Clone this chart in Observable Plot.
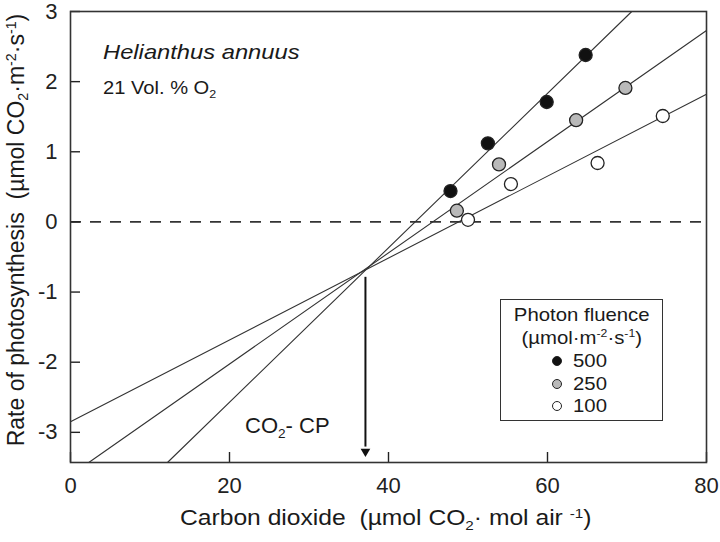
<!DOCTYPE html>
<html><head><meta charset="utf-8">
<script src="https://cdn.jsdelivr.net/npm/d3@7"></script>
<script src="https://cdn.jsdelivr.net/npm/@observablehq/plot@0.6"></script>
<style>
body{margin:0;background:#fff;}
#wrap{position:relative;width:720px;height:542px;font-family:"Liberation Sans",Arial,Helvetica,sans-serif;color:#1a1a1a;overflow:hidden;}
#wrap svg{position:absolute;left:0;top:0;}
.t{position:absolute;white-space:nowrap;line-height:1;transform-origin:0 0;}
.t sub{font-size:0.62em;vertical-align:-0.35em;line-height:0;}
.t sup{font-size:0.62em;vertical-align:0.55em;line-height:0;}
#legend{position:absolute;left:500px;top:299px;width:161px;height:120px;border:1.6px solid #333;font-size:18.5px;line-height:23px;}
#legend .hd{text-align:center;white-space:nowrap;}
#legend .hd span{display:inline-block;transform:scaleX(1.1);}
#legend .row{position:relative;height:22.5px;}
#legend .sw{position:absolute;left:51px;top:7px;width:8px;height:8px;border-radius:50%;border:1.2px solid #222;}
#legend .lb{position:absolute;left:72px;top:0;transform:scaleX(1.1);transform-origin:0 0;}
</style></head><body><div id="wrap"></div>
<script>
// ---- data ----
const fluences = ["500", "250", "100"];
const fluenceFills = ["#111111", "#b9b9b9", "#ffffff"];

const co2_500 = [47.8, 52.5, 59.9, 64.8];
const rate_500 = [0.44, 1.12, 1.71, 2.38];
const co2_250 = [48.6, 53.9, 63.6, 69.8];
const rate_250 = [0.16, 0.82, 1.45, 1.91];
const co2_100 = [50.0, 55.4, 66.3, 74.5];
const rate_100 = [0.03, 0.54, 0.84, 1.51];

// fitted regression lines (end points)
const fitX_500 = [12.2, 70.6];
const fitY_500 = [-3.43, 3.0];
const fitX_250 = [2.3, 80];
const fitY_250 = [-3.43, 2.73];
const fitX_100 = [0, 80];
const fitY_100 = [-2.85, 1.82];

// CO2 compensation point arrow
const cpX = [37.1];
const cpYTop = [-0.79];
const cpYBottom = [-3.21];
const cpYTip = [-3.43];

const xTicks = [0, 20, 40, 60, 80];
const yTicks = [-3, -2, -1, 0, 1, 2, 3];

// ---- tables ----
const points = [
  ...co2_500.map((x, i) => ({fluence: "500", co2: x, rate: rate_500[i]})),
  ...co2_250.map((x, i) => ({fluence: "250", co2: x, rate: rate_250[i]})),
  ...co2_100.map((x, i) => ({fluence: "100", co2: x, rate: rate_100[i]}))
];
const fits = [
  ...fitX_500.map((x, i) => ({fluence: "500", co2: x, rate: fitY_500[i]})),
  ...fitX_250.map((x, i) => ({fluence: "250", co2: x, rate: fitY_250[i]})),
  ...fitX_100.map((x, i) => ({fluence: "100", co2: x, rate: fitY_100[i]}))
];
const arrow = cpX.map((x, i) => ({co2: x, top: cpYTop[i], bottom: cpYBottom[i], tip: cpYTip[i]}));

const ink = "#222";
const chart = Plot.plot({
  width: 720,
  height: 542,
  marginLeft: 70,
  marginRight: 14,
  marginTop: 11,
  marginBottom: 80,
  style: {fontFamily: "'Liberation Sans', Arial, Helvetica, sans-serif", fontSize: "22px", color: ink, background: "transparent"},
  x: {domain: [0, 80]},
  y: {domain: [-3.43, 3]},
  color: {domain: fluences, range: fluenceFills},
  marks: [
    Plot.ruleY([0], {stroke: "#333", strokeWidth: 1.6, strokeDasharray: "11,9"}),
    Plot.line(fits, {x: "co2", y: "rate", z: "fluence", stroke: "#333", strokeWidth: 1.1}),
    Plot.ruleX(arrow, {x: "co2", y1: "top", y2: "bottom", stroke: "#111", strokeWidth: 2}),
    Plot.dot(arrow, {x: "co2", y: "tip", symbol: "triangle", rotate: 180, r: 3.6, fill: "#111", stroke: "none", dy: -11}),
    Plot.dot(points, {x: "co2", y: "rate", fill: "fluence", stroke: ink, strokeWidth: 1.3, r: 6.5}),
    Plot.axisX({ticks: xTicks, tickSize: 10, dy: -10, tickPadding: 15, label: null, stroke: ink, strokeWidth: 1.4}),
    Plot.axisY({ticks: yTicks, tickSize: 10, dx: 10, tickPadding: 13, label: null, tickFormat: d => d < 0 ? "-" + Math.abs(d) : String(d), stroke: ink, strokeWidth: 1.4}),
    Plot.frame({stroke: "#333", strokeWidth: 1.6})
  ]
});

const wrap = document.getElementById("wrap");
wrap.appendChild(chart);

function addText(html, css) {
  const d = document.createElement("div");
  d.className = "t";
  d.innerHTML = html;
  Object.assign(d.style, css);
  wrap.appendChild(d);
  return d;
}

// annotations
addText("Helianthus annuus", {left: "103px", top: "41px", fontSize: "21px", fontStyle: "italic", transform: "scaleX(1.13)"});
addText("21 Vol. % O<sub>2</sub>", {left: "103px", top: "80px", fontSize: "17.5px", transform: "scaleX(1.15)"});
addText("CO<sub>2</sub>- CP", {left: "245px", top: "415px", fontSize: "22px"});

// axis titles
addText("Carbon dioxide&nbsp;&nbsp;(µmol CO<sub>2</sub>· mol air <sup>-1</sup>)", {left: "180px", top: "507px", fontSize: "22px", transform: "scaleX(1.12)"});
const yt = addText("Rate of photosynthesis&nbsp;&nbsp;(µmol CO<sub>2</sub>·m<sup>-2</sup>·s<sup>-1</sup>)", {left: "16px", top: "230px", fontSize: "23px", transformOrigin: "50% 50%", transform: "translate(-50%,-50%) rotate(-90deg)"});

// legend
const lg = document.createElement("div");
lg.id = "legend";
let html = '<div class="hd" style="margin-top:3px"><span>Photon fluence</span></div><div class="hd"><span>(µmol·m<sup style="font-size:0.6em;vertical-align:0.6em;line-height:0">-2</sup>·s<sup style="font-size:0.6em;vertical-align:0.6em;line-height:0">-1</sup>)</span></div>';
fluences.forEach((f, i) => {
  html += `<div class="row"><span class="sw" style="background:${fluenceFills[i]}"></span><span class="lb">${f}</span></div>`;
});
lg.innerHTML = html;
wrap.appendChild(lg);
</script>
</body></html>
